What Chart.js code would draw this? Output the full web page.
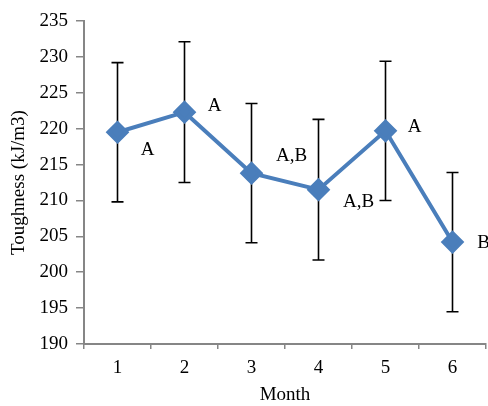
<!DOCTYPE html>
<html>
<head>
<meta charset="utf-8">
<script src="https://cdn.jsdelivr.net/npm/chart.js@4/dist/chart.umd.min.js"></script>
<style>
  html, body { margin: 0; padding: 0; background: #fff; }
  #wrap { width: 488px; height: 406px; }
</style>
</head>
<body>
<div id="wrap"><canvas id="canvas1" width="488" height="406"></canvas></div>
<script>
var months = ["1", "2", "3", "4", "5", "6"];
var toughness = [219.5, 222.3, 213.8, 211.5, 219.7, 204.2];
var errors = [9.7, 9.8, 9.7, 9.8, 9.7, 9.7];
var groups = ["A", "A", "A,B", "A,B", "A", "B"];
var yTicks = [190, 195, 200, 205, 210, 215, 220, 225, 230, 235];

// label offsets from each point (px)
var labelOffsets = [[30, 18], [30, -6], [40, -17], [40, 12], [29, -4], [31, 1]];

var axisGray = "#868686";
var serif = "'Liberation Serif', 'Times New Roman', serif";

var errorBars = {
    id: "errorBars",
    beforeDatasetsDraw: function(chart) {
        var ctx = chart.ctx, x = chart.scales.x, y = chart.scales.y;
        ctx.save();
        ctx.strokeStyle = "#000";
        ctx.lineWidth = 1.6;
        for (var i = 0; i < toughness.length; i++) {
            var px = x.getPixelForValue(i);
            var top = y.getPixelForValue(toughness[i] + errors[i]);
            var bot = y.getPixelForValue(toughness[i] - errors[i]);
            ctx.beginPath();
            ctx.moveTo(px, top); ctx.lineTo(px, bot);
            ctx.moveTo(px - 6, top); ctx.lineTo(px + 6, top);
            ctx.moveTo(px - 6, bot); ctx.lineTo(px + 6, bot);
            ctx.stroke();
        }
        ctx.restore();
    },
    afterDatasetsDraw: function(chart) {
        var ctx = chart.ctx, x = chart.scales.x, y = chart.scales.y;
        ctx.save();
        ctx.fillStyle = "#000";
        ctx.font = "19px " + serif;
        ctx.textAlign = "center";
        ctx.textBaseline = "middle";
        for (var i = 0; i < groups.length; i++) {
            var px = x.getPixelForValue(i) + labelOffsets[i][0];
            var py = y.getPixelForValue(toughness[i]) + labelOffsets[i][1];
            ctx.fillText(groups[i], px, py);
        }
        ctx.restore();
    }
};

new Chart(document.getElementById("canvas1"), {
    type: "line",
    data: {
        labels: months,
        datasets: [{
            data: toughness,
            borderColor: "#4a7ebb",
            backgroundColor: "#4a7ebb",
            borderWidth: 4,
            pointStyle: "rectRot",
            pointRadius: 9,
            pointHoverRadius: 9,
            tension: 0,
            clip: false
        }]
    },
    options: {
        responsive: false,
        animation: false,
        layout: { autoPadding: false, padding: { top: 21, right: 2, left: 8, bottom: 0 } },
        plugins: {
            legend: { display: false },
            tooltip: { enabled: false }
        },
        scales: {
            x: {
                offset: true,
                grid: { offset: true, drawOnChartArea: false, drawTicks: true, tickLength: 5, color: axisGray, lineWidth: 1.5 },
                border: { color: axisGray, width: 2 },
                ticks: { color: "#000", font: { family: serif, size: 19 }, padding: 8 },
                title: { display: true, text: "Month", color: "#000", font: { family: serif, size: 19 }, padding: { top: 4, bottom: 0 } },
                afterFit: function(s) { s.height = 62; s.paddingLeft = 0; s.paddingRight = 0; }
            },
            y: {
                min: 190,
                max: 235,
                afterBuildTicks: function(s) { s.ticks = yTicks.map(function(v) { return { value: v }; }); },
                grid: { drawOnChartArea: false, drawTicks: true, tickLength: 8, color: axisGray, lineWidth: 1.5 },
                border: { color: axisGray, width: 2 },
                ticks: { color: "#000", font: { family: serif, size: 19 }, padding: 8 },
                title: { display: true, text: "Toughness (kJ/m3)", color: "#000", font: { family: serif, size: 19 }, padding: { top: 0, bottom: 0 } },
                afterFit: function(s) { s.width = 76; s.paddingTop = 0; s.paddingBottom = 0; }
            }
        }
    },
    plugins: [errorBars]
});
</script>
</body>
</html>
